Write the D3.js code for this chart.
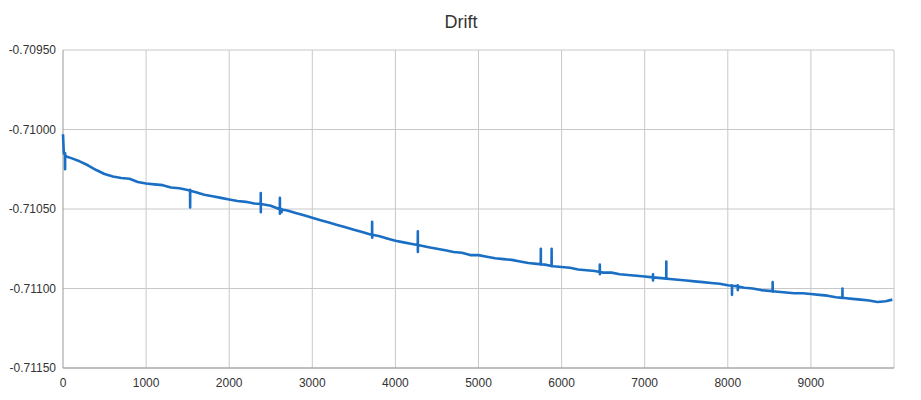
<!DOCTYPE html>
<html><head><meta charset="utf-8">
<script src="https://cdn.jsdelivr.net/npm/d3@7"></script>
<style>body{margin:0;background:#fff}svg{font-family:"Liberation Sans","DejaVu Sans",sans-serif}</style>
</head><body><svg id="c" width="921" height="400"></svg>
<script>
const title = "Drift";
const yTicks = [-0.7095, -0.7100, -0.7105, -0.7110, -0.7115];
const xTicks = [0,1000,2000,3000,4000,5000,6000,7000,8000,9000];
// baseline offsets (units of 1e-5 below -0.71000), every 100 steps
const baseX = d3.range(0, 10000, 100);
const baseD = [3,18,20,22.5,25.5,28,29.5,30.5,31,33,
 34,34.5,35,36.5,37,38,39.5,41,42,43,
 44,45,45.5,46.5,47,48,50,51,52.5,54,
 55.5,57,58.5,60,61.5,63,64.5,66,67,68.5,
 70,71,72,73,74,75,76,77,77.5,79,
 79,80,81,81.5,82,83,84,84.5,85,86,
 86.5,87,88,88.5,89,90,90,91,91.5,92,
 92.5,93,93.5,94,94.5,95,95.5,96,96.5,97,
 98,98.5,99.5,100,101,101.5,102,102.5,103,103,
 103.5,104,104.5,105.5,106,106.5,107,107.5,108.5,108];
const extraX = [10, 40, 9980];
const extraD = [15, 17, 107];
// spikes: position and extreme offset
const spikeX = [25,1530,2380,2610,2630,3720,4270,5750,5880,6460,7100,7260,8050,8120,8540,9380];
const spikeD = [25,49,40,43,52,58,64,75,75,85,91,83,98,98,96,100];
const spikeD2 = [15,38,52,53,50,68,77,85,86,91,95,93,104,101,102,106];

const W=921,H=400,m={l:63,r:27,t:50,b:32};
const svg=d3.select("#c");
const x=d3.scaleLinear().domain([0,10000]).range([m.l,W-m.r]);
const y=d3.scaleLinear().domain([-0.7115,-0.7095]).range([H-m.b,m.t]);
const toV=d=>-0.71-d*1e-5;

svg.append("text").attr("x",461).attr("y",28).attr("text-anchor","middle")
 .attr("font-size",18).attr("fill","#333").text(title);
svg.append("g").selectAll("line").data(yTicks).join("line")
 .attr("x1",m.l).attr("x2",W-m.r).attr("y1",d=>y(d)).attr("y2",d=>y(d))
 .attr("stroke","#c8c8c8");
svg.append("g").selectAll("line").data(xTicks.slice(1).concat([10000])).join("line")
 .attr("x1",d=>x(d)).attr("x2",d=>x(d)).attr("y1",m.t).attr("y2",H-m.b)
 .attr("stroke","#c8c8c8");
svg.append("line").attr("x1",m.l).attr("x2",m.l).attr("y1",m.t).attr("y2",H-m.b).attr("stroke","#9a9a9a");
svg.append("line").attr("x1",m.l).attr("x2",W-m.r).attr("y1",H-m.b).attr("y2",H-m.b).attr("stroke","#9a9a9a");
svg.append("g").selectAll("text").data(yTicks).join("text")
 .attr("x",56).attr("y",d=>y(d)+4).attr("text-anchor","end").attr("font-size",12).attr("fill","#333")
 .text(d=>d.toFixed(5));
svg.append("g").selectAll("text").data(xTicks).join("text")
 .attr("x",d=>x(d)).attr("y",H-m.b+19).attr("text-anchor","middle").attr("font-size",12).attr("fill","#333")
 .text(d=>d);

// merge points
let pts = baseX.map((v,i)=>[v,baseD[i]]).concat(extraX.map((v,i)=>[v,extraD[i]]));
pts.sort((a,b)=>a[0]-b[0]);
const interp=(xv)=>{for(let i=1;i<pts.length;i++){if(pts[i][0]>=xv){const a=pts[i-1],b=pts[i];return a[1]+(b[1]-a[1])*(xv-a[0])/(b[0]-a[0]);}}return pts[pts.length-1][1];};
let all=[...pts];
spikeX.forEach((sx,i)=>{const b=interp(sx);all.push([sx-1,b],[sx,spikeD[i]],[sx+0.5,spikeD2[i]],[sx+1,b]);});
all.sort((a,b)=>a[0]-b[0]);
svg.append("path").datum(all).attr("fill","none").attr("stroke","#1a6fc4").attr("stroke-width",2.6)
 .attr("stroke-linejoin","round")
 .attr("d",d3.line().x(d=>x(d[0])).y(d=>y(toV(d[1]))));
</script></body></html>
